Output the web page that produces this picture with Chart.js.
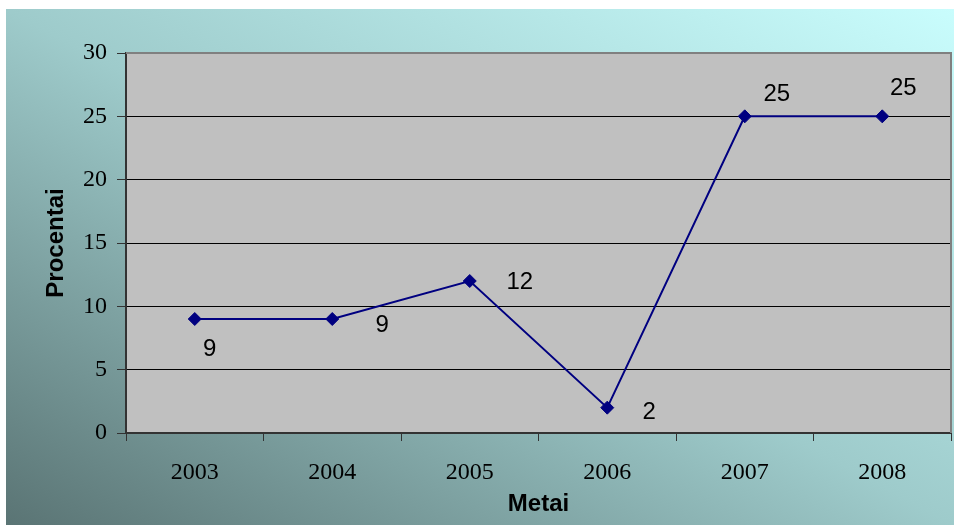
<!DOCTYPE html>
<html>
<head>
<meta charset="utf-8">
<script src="https://cdn.jsdelivr.net/npm/chart.js@4.4.1/dist/chart.umd.min.js"></script>
<style>
  html, body { margin: 0; padding: 0; background: #ffffff; }
  body { width: 954px; height: 525px; position: relative; overflow: hidden; }
  #wrap {
    position: absolute; left: 6px; top: 9px; width: 948px; height: 516px;
    background: linear-gradient(to top right, #5a7474 0%, #9ecbcb 50%, #c9fdfd 100%);
  }
  canvas { display: block; }
</style>
</head>
<body>
<div id="wrap"><canvas id="c" width="948" height="516"></canvas></div>
<script>
// ---- data ----
const categories = ['2003', '2004', '2005', '2006', '2007', '2008'];
const values = [9, 9, 12, 2, 25, 25];
const yTicks = [0, 5, 10, 15, 20, 25, 30];
const xTitle = 'Metai';
const yTitle = 'Procentai';

// ---- label placement (style, in px relative to each point) ----
const labelDX = [15, 50, 50, 42, 32, 21];
const labelDY = [30, 6, 1, 5, -22, -28];

const labelPlugin = {
  id: 'pointLabels',
  afterDatasetsDraw(chart) {
    const ctx = chart.ctx;
    const meta = chart.getDatasetMeta(0);
    ctx.save();
    ctx.font = '24px "Liberation Sans", Arial, sans-serif';
    ctx.fillStyle = '#000000';
    ctx.textAlign = 'center';
    ctx.textBaseline = 'middle';
    meta.data.forEach((pt, i) => {
      ctx.fillText(String(values[i]), pt.x + labelDX[i], pt.y + labelDY[i]);
    });
    ctx.restore();
  }
};

const framePlugin = {
  id: 'frame',
  beforeDatasetsDraw(chart) {
    const {ctx, chartArea: a} = chart;
    ctx.save();
    ctx.strokeStyle = '#808080';
    ctx.lineWidth = 2;
    ctx.beginPath();
    ctx.moveTo(a.left, a.top);
    ctx.lineTo(a.right, a.top);
    ctx.lineTo(a.right, a.bottom);
    ctx.stroke();
    ctx.restore();
  }
};

const areaBg = {
  id: 'areaBg',
  beforeDraw(chart) {
    const {ctx, chartArea: a} = chart;
    ctx.save();
    ctx.fillStyle = '#c0c0c0';
    ctx.fillRect(a.left, a.top, a.right - a.left, a.bottom - a.top);
    ctx.restore();
  }
};

new Chart(document.getElementById('c'), {
  type: 'line',
  data: {
    labels: categories,
    datasets: [{
      data: values,
      borderColor: '#000080',
      backgroundColor: '#000080',
      borderWidth: 2,
      pointStyle: 'rectRot',
      pointRadius: 6.5,
      pointBorderWidth: 1,
      pointBackgroundColor: '#000080',
      pointBorderColor: '#000080',
      tension: 0,
      fill: false
    }]
  },
  options: {
    responsive: false,
    animation: false,
    devicePixelRatio: 1,
    layout: { autoPadding: false, padding: { left: 0, top: 44, right: 3, bottom: 0 } },
    plugins: { legend: { display: false }, tooltip: { enabled: false } },
    scales: {
      x: {
        type: 'category',
        offset: true,
        afterFit(s) { s.height = 92; s.paddingLeft = 0; s.paddingRight = 0; },
        grid: { display: true, offset: true, drawOnChartArea: false, drawTicks: true, tickLength: 8, tickColor: '#333333', lineWidth: 1 },
        border: { display: true, color: '#333333', width: 2 },
        ticks: { color: '#000000', padding: 17, maxRotation: 0, font: { family: '"Liberation Serif", "Times New Roman", serif', size: 24 } },
        title: { display: true, text: xTitle, color: '#000000', padding: { top: 0, bottom: 6 }, font: { family: '"Liberation Sans", Arial, sans-serif', size: 24, weight: 'bold' } }
      },
      y: {
        min: 0, max: 30,
        afterFit(s) { s.width = 120; },
        afterBuildTicks(s) { s.ticks = yTicks.map(v => ({ value: v })); },
        grid: {
          color: (c) => (c.tick && c.tick.value === 30) ? '#808080' : (c.tick && c.tick.value === 0 ? 'rgba(0,0,0,0)' : '#000000'),
          lineWidth: 1,
          tickLength: 9,
          tickColor: '#333333',
          drawTicks: true
        },
        border: { display: true, color: '#333333', width: 2 },
        ticks: { color: '#000000', padding: 10, font: { family: '"Liberation Serif", "Times New Roman", serif', size: 24 } },
        title: { display: true, text: yTitle, color: '#000000', padding: { top: 36, bottom: 0 }, font: { family: '"Liberation Sans", Arial, sans-serif', size: 24, weight: 'bold' } }
      }
    }
  },
  plugins: [areaBg, framePlugin, labelPlugin]
});
</script>
</body>
</html>
